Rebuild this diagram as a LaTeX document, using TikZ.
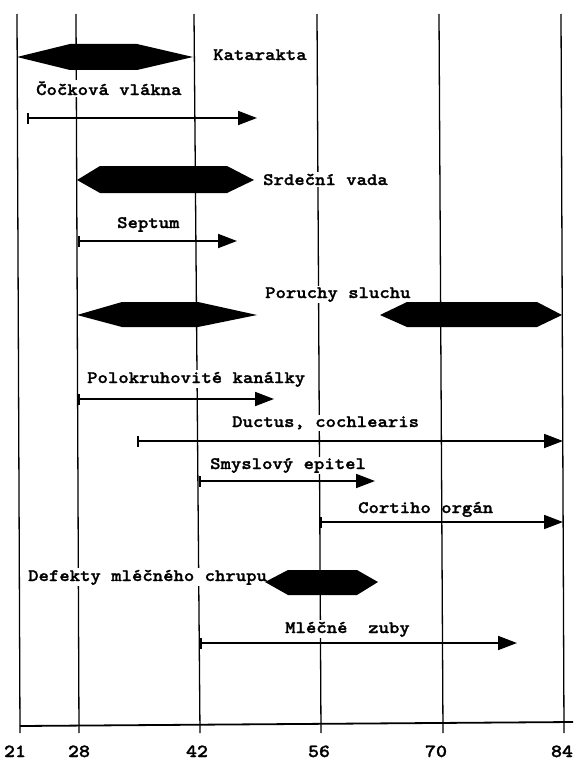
\documentclass[tikz,border=0pt]{standalone}
\usepackage{fontspec}
\usetikzlibrary{arrows.meta}
% bold typewriter face, widened to a pica pitch and inked a little heavier
\newfontfamily\typefont{lmmonolt10-bold.otf}[FakeStretch=1.13,FakeBold=1.4]
\begin{document}
\begin{tikzpicture}[x=1pt,y=-1pt,
  gridline/.style={line width=1.3pt, black},
  axisline/.style={line width=1.8pt, black},
  lbl/.style={font={\typefont\fontsize{17.5}{20}\selectfont},
    anchor=base west, inner xsep=2pt, inner ysep=1.5pt, fill=white},
  lblclear/.style={lbl, fill=none},
  tick/.style={font={\typefont\fontsize{18.5}{20}\selectfont},
    anchor=base, inner sep=0pt},
  span/.style={line width=1.8pt, black,
    arrows={Bar[width=11pt]-Triangle[length=19pt,width=14pt]}},
  hexbar/.style={fill=black}
]
\useasboundingbox (0,0) rectangle (573,760);

% vertical week lines (21, 28, 42, 56, 70, 84)
\draw[gridline] (17,14)  -- (20,733);
\draw[gridline] (76,14)  -- (79,733);
\draw[gridline] (194,14) -- (200,733);
\draw[gridline] (317,14) -- (321,733);
\draw[gridline] (439,14) -- (443,733);
\draw[gridline] (561,14) -- (564,733);

% time axis
\draw[axisline] (20,726) -- (573,722);
\node[tick] (t21) at (15,757)  {21};
\node[tick] (t28) at (79,757)  {28};
\node[tick] (t42) at (197,757) {42};
\node[tick] (t56) at (319,757) {56};
\node[tick] (t70) at (436,757) {70};
\node[tick] (t84) at (562,757) {84};

% labels
\node[lbl] (kat) at (211,60)  {Katarakta};
\node[lbl] (coc) at (34,95)   {Čočková vlákna};
\node[lbl] (srd) at (261,185) {Srdeční vada};
\node[lbl] (sep) at (115,228) {Septum};
\node[lbl] (por) at (263,298) {Poruchy sluchu};
\node[lbl] (pol) at (85,383)  {Polokruhovité kanálky};
\node[lbl] (duc) at (230,427) {Ductus, cochlearis};
\node[lbl] (smy) at (208,469) {Smyslový epitel};
\node[lblclear] (cor) at (356,513) {Cortiho orgán};
\node[lbl] (def) at (26,581)  {Defekty mléčného chrupu};
\node[lbl] (mle) at (283,633) {Mléčné\ \ zuby};

% malformation periods (filled hexagonal bars)
\fill[hexbar] (17,57) -- (70,44) -- (137,44) -- (193,57) -- (137,70) -- (70,70) -- cycle;
\fill[hexbar] (77,180) -- (100,166) -- (227,166) -- (254,180) -- (227,193) -- (100,193) -- cycle;
\fill[hexbar] (77,315) -- (122,302) -- (198,302) -- (257,315) -- (198,327) -- (122,327) -- cycle;
\fill[hexbar] (380,315) -- (407,302) -- (537,302) -- (562,315) -- (537,327) -- (407,327) -- cycle;
\fill[hexbar] (265,582) -- (288,570) -- (357,570) -- (378,582) -- (357,595) -- (288,595) -- cycle;

% development spans
\coordinate (cocA) at (27,118);  \coordinate (cocB) at (257,118);
\coordinate (sepA) at (78,241);  \coordinate (sepB) at (237,241);
\coordinate (polA) at (78,399);  \coordinate (polB) at (274,399);
\coordinate (ducA) at (137,441); \coordinate (ducB) at (563,441);
\coordinate (smyA) at (199,481); \coordinate (smyB) at (375,481);
\coordinate (corA) at (320,522); \coordinate (corB) at (563,522);
\coordinate (mleA) at (200,643); \coordinate (mleB) at (517,643);

\draw[span] (cocA) -- (cocB);
\draw[span] (sepA) -- (sepB);
\draw[span] (polA) -- (polB);
\draw[span] (ducA) -- (ducB);
\draw[span] (smyA) -- (smyB);
\draw[span] (corA) -- (corB);
\draw[span] (mleA) -- (mleB);
\end{tikzpicture}
\end{document}
